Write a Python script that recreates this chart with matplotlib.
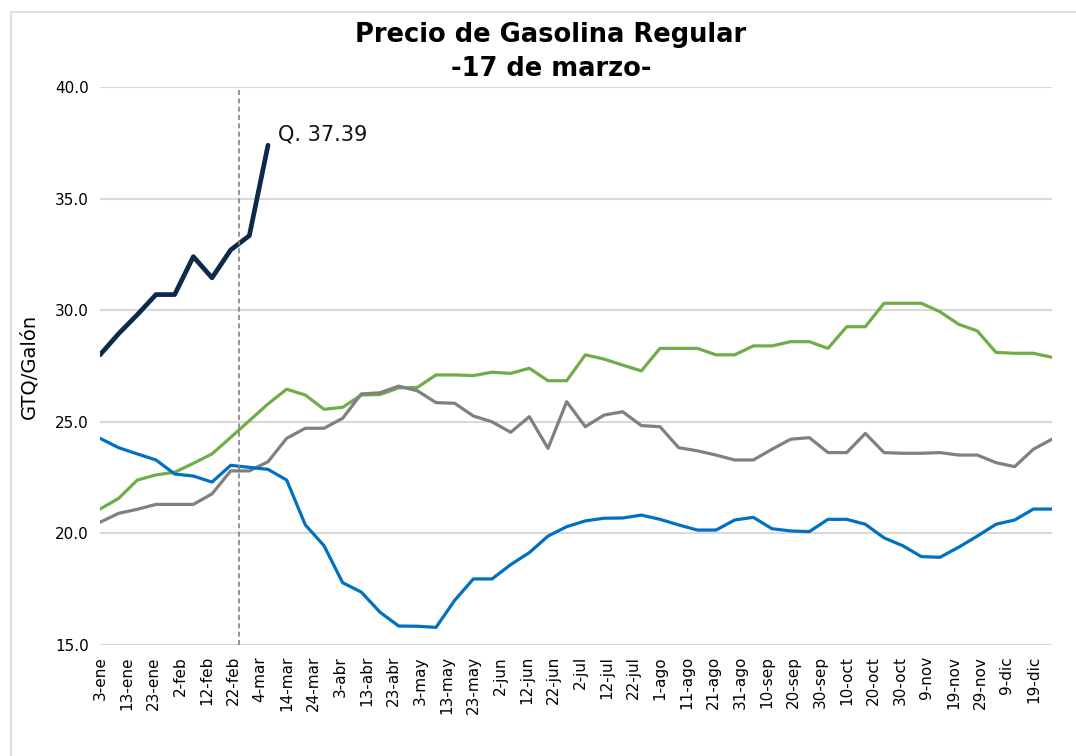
import numpy as np
import matplotlib
matplotlib.use("Agg")
from matplotlib import pyplot as plt
from matplotlib.patches import Rectangle

# x tick labels (every 10 days starting 3-ene)
tick_labels = ["3-ene", "13-ene", "23-ene", "2-feb", "12-feb", "22-feb", "4-mar", "14-mar",
               "24-mar", "3-abr", "13-abr", "23-abr", "3-may", "13-may", "23-may", "2-jun",
               "12-jun", "22-jun", "2-jul", "12-jul", "22-jul", "1-ago", "11-ago", "21-ago",
               "31-ago", "10-sep", "20-sep", "30-sep", "10-oct", "20-oct", "30-oct", "9-nov",
               "19-nov", "29-nov", "9-dic", "19-dic"]
tick_days = np.arange(len(tick_labels)) * 10

# weekly prices (GTQ/galon)
serie_azul = [24.26, 23.84, 23.56, 23.29, 22.66, 22.57, 22.30, 23.05, 22.96, 22.87,
              22.39, 20.38, 19.45, 17.79, 17.37, 16.47, 15.85, 15.84, 15.79, 17.00,
              17.96, 17.96, 18.60, 19.14, 19.88, 20.30, 20.56, 20.68, 20.69, 20.82,
              20.63, 20.38, 20.15, 20.15, 20.60, 20.72, 20.21, 20.11, 20.08, 20.63,
              20.63, 20.41, 19.80, 19.45, 18.96, 18.93, 19.38, 19.88, 20.41, 20.60,
              21.09, 21.09]
serie_verde = [21.09, 21.57, 22.39, 22.62, 22.74, 23.14, 23.56, 24.30, 25.05, 25.80,
               26.46, 26.20, 25.56, 25.65, 26.20, 26.22, 26.52, 26.54, 27.10, 27.10,
               27.07, 27.22, 27.17, 27.40, 26.84, 26.84, 28.00, 27.81, 27.54, 27.28,
               28.29, 28.29, 28.29, 28.00, 28.00, 28.40, 28.40, 28.59, 28.59, 28.29,
               29.26, 29.26, 30.31, 30.31, 30.31, 29.93, 29.37, 29.07, 28.11, 28.07,
               28.07, 27.89]
serie_gris = [20.50, 20.90, 21.08, 21.30, 21.30, 21.30, 21.77, 22.80, 22.80, 23.21,
              24.26, 24.71, 24.71, 25.16, 26.25, 26.30, 26.60, 26.39, 25.86, 25.83,
              25.26, 25.00, 24.53, 25.23, 23.81, 25.90, 24.78, 25.30, 25.45, 24.83,
              24.78, 23.84, 23.70, 23.51, 23.29, 23.29, 23.77, 24.22, 24.29, 23.62,
              23.62, 24.48, 23.62, 23.59, 23.59, 23.62, 23.51, 23.51, 23.17, 22.99,
              23.77, 24.22]
serie_actual = [28.00, 28.95, 29.80, 30.70, 30.70, 32.40, 31.45, 32.70, 33.34, 37.39]

dia_marca = 52  # 24-feb

dias = np.arange(len(serie_azul)) * 7
dias_actual = np.arange(len(serie_actual)) * 7

plt.rcParams['font.family'] = ['DejaVu Sans']

fig = plt.figure(figsize=(10.76, 7.56), dpi=100)
fig.patches.append(Rectangle((11 / 1076, -0.1), 1.2, 1 - 12 / 756 + 0.1,
                             transform=fig.transFigure, fill=False,
                             edgecolor='#d9d9d9', linewidth=1.2))
ax = fig.add_axes([100 / 1076, 1 - 645 / 756, 952 / 1076, (645 - 87) / 756])

ax.plot(dias, serie_verde, color='#70ad47', linewidth=2.3, solid_joinstyle='round')
ax.plot(dias, serie_gris, color='#808080', linewidth=2.3, solid_joinstyle='round')
ax.plot(dias, serie_azul, color='#0070c0', linewidth=2.3, solid_joinstyle='round')
ax.plot(dias_actual, serie_actual, color='#0d2a4b', linewidth=3.4,
        solid_joinstyle='round', solid_capstyle='round')
ax.axvline(dia_marca, color='#808080', linestyle=(0, (3, 2)), linewidth=1.2)

ax.annotate("Q. %.2f" % serie_actual[-1], (dias_actual[-1], serie_actual[-1]),
            xytext=(7, 8), textcoords='offset points', fontsize=15,
            va='center', ha='left', color='#111111')

ax.set_xlim(0, dias[-1])
ax.set_ylim(15, 40)
ax.set_yticks(np.arange(15, 40.1, 5))
ax.set_yticklabels(["%.1f" % v for v in np.arange(15, 40.1, 5)], fontsize=11)
ax.set_xticks(tick_days)
ax.set_xticklabels(tick_labels, rotation=90, fontsize=11)
ax.tick_params(length=0, pad=8)
ax.grid(axis='y', color='#d9d9d9', linewidth=1.5)
ax.set_axisbelow(True)
for s in ax.spines.values():
    s.set_visible(False)
ax.set_ylabel("GTQ/Galón", fontsize=14, labelpad=12)

fig.text(551 / 1076, 1 - 52 / 756, "Precio de Gasolina Regular\n-17 de marzo-",
         ha='center', va='center', fontsize=18.5, fontweight='bold', linespacing=1.35)

fig.savefig("out.png", dpi=100)
